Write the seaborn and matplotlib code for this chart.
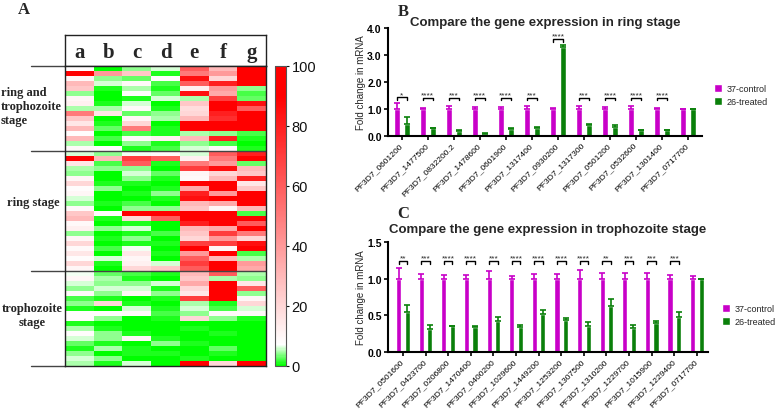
# -*- coding: utf-8 -*-

### Heatmap of stage genes + qPCR fold change bars ###

import numpy as np
import pandas as pd
import seaborn as sns
import matplotlib.pyplot as plt
from matplotlib.colors import LinearSegmentedColormap

sns.set_theme(style='white')
plt.rcParams['font.family'] = ['Liberation Sans', 'DejaVu Sans']

## Heatmap data (percentile, 0-100) ##
hm_columns = ['a', 'b', 'c', 'd', 'e', 'f', 'g']
ring_troph_rows = [
    [8, 0, 4, 6, 60, 30, 95],
    [90, 40, 25, 1, 50, 40, 100],
    [10, 4, 3, 8, 85, 20, 100],
    [30, 6, 9, 2, 60, 80, 90],
    [25, 1, 5, 1, 12, 40, 4],
    [4, 0, 8, 3, 85, 35, 2],
    [10, 0, 1, 6, 5, 70, 3],
    [12, 1, 6, 0, 25, 90, 85],
    [5, 5, 9, 1, 18, 95, 60],
    [50, 15, 3, 4, 20, 80, 90],
    [25, 0, 10, 5, 30, 75, 95],
    [15, 1, 20, 0, 95, 95, 90],
    [30, 3, 50, 1, 100, 100, 95],
    [8, 0, 2, 1, 5, 4, 2],
    [30, 2, 9, 12, 30, 80, 1],
    [5, 0, 4, 1, 4, 2, 0],
    [9, 8, 1, 2, 6, 9, 1],
]
ring_rows = [
    [6, 4, 7, 9, 6, 60, 80],
    [90, 30, 70, 60, 12, 50, 90],
    [15, 2, 60, 1, 50, 40, 3],
    [5, 4, 4, 0, 70, 85, 30],
    [4, 0, 6, 3, 10, 20, 25],
    [10, 0, 4, 1, 9, 30, 80],
    [20, 1, 1, 0, 90, 95, 15],
    [8, 4, 0, 1, 35, 100, 25],
    [10, 0, 1, 4, 80, 40, 95],
    [6, 0, 0, 1, 85, 90, 90],
    [4, 1, 2, 0, 30, 35, 100],
    [9, 0, 4, 4, 25, 10, 30],
    [25, 8, 90, 90, 100, 100, 2],
    [30, 1, 20, 60, 100, 100, 90],
    [9, 0, 1, 0, 80, 90, 60],
    [12, 4, 6, 0, 30, 35, 95],
    [4, 0, 1, 2, 25, 70, 50],
    [10, 1, 4, 0, 20, 40, 20],
    [20, 0, 1, 1, 70, 70, 85],
    [9, 2, 7, 0, 90, 10, 90],
    [15, 0, 15, 1, 40, 95, 2],
    [8, 6, 10, 0, 60, 30, 5],
    [20, 1, 12, 6, 70, 90, 40],
    [10, 0, 20, 25, 60, 100, 35],
]
troph_rows = [
    [7, 3, 2, 1, 30, 60, 5],
    [10, 5, 1, 0, 25, 5, 4],
    [6, 4, 4, 6, 35, 90, 15],
    [4, 6, 6, 1, 20, 95, 60],
    [9, 4, 10, 4, 15, 90, 4],
    [2, 1, 0, 1, 70, 90, 10],
    [4, 20, 1, 0, 5, 1, 20],
    [1, 0, 6, 1, 6, 2, 6],
    [8, 8, 9, 2, 4, 9, 9],
    [8, 4, 0, 1, 20, 4, 1],
    [1, 0, 0, 0, 0, 0, 0],
    [5, 1, 0, 0, 1, 0, 0],
    [8, 4, 1, 0, 0, 1, 0],
    [6, 4, 10, 1, 0, 0, 0],
    [3, 1, 0, 4, 1, 0, 0],
    [1, 5, 1, 0, 0, 3, 0],
    [4, 0, 1, 1, 0, 1, 0],
    [6, 4, 0, 0, 1, 0, 0],
    [5, 1, 6, 0, 90, 20, 90],
]
group_names = ['ring and\ntrophozoite\nstage', 'ring stage', 'trophozoite\nstage']
cbar_ticks = [0, 20, 40, 60, 80, 100]

## Ring stage qPCR ##
ring_genes = ['PF3D7_0601200', 'PF3D7_1477500', 'PF3D7_0832200.2', 'PF3D7_1478600',
              'PF3D7_0601900', 'PF3D7_1317400', 'PF3D7_0930200', 'PF3D7_1317300',
              'PF3D7_0501200', 'PF3D7_0532600', 'PF3D7_1301400', 'PF3D7_0717700']
ring_control = [1.0, 1.0, 1.0, 1.0, 1.0, 1.0, 1.0, 1.0, 1.0, 1.0, 1.0, 1.0]
ring_control_err = [0.21, 0.04, 0.12, 0.09, 0.07, 0.10, 0.04, 0.12, 0.07, 0.10, 0.02, 0.0]
ring_treated = [0.46, 0.28, 0.19, 0.09, 0.25, 0.29, 3.30, 0.40, 0.35, 0.21, 0.21, 1.0]
ring_treated_err = [0.23, 0.03, 0.04, 0.02, 0.03, 0.06, 0.07, 0.05, 0.04, 0.02, 0.02, 0.0]
ring_stars = ['*', '****', '***', '****', '****', '***', '****', '***', '****', '****', '****', '']

## Trophozoite stage qPCR ##
troph_genes = ['PF3D7_0501600', 'PF3D7_0423700', 'PF3D7_0206800', 'PF3D7_1470400',
               'PF3D7_0400200', 'PF3D7_1029600', 'PF3D7_1449200', 'PF3D7_1253200',
               'PF3D7_1307500', 'PF3D7_1310200', 'PF3D7_1229700', 'PF3D7_1015900',
               'PF3D7_1229400', 'PF3D7_0717700']
troph_control = [1.0, 1.0, 1.0, 1.0, 1.0, 1.0, 1.0, 1.0, 1.0, 1.0, 1.0, 1.0, 1.0, 1.0]
troph_control_err = [0.15, 0.07, 0.05, 0.045, 0.11, 0.03, 0.07, 0.06, 0.12, 0.08, 0.08, 0.08, 0.045, 0.035]
troph_treated = [0.54, 0.32, 0.35, 0.34, 0.42, 0.34, 0.52, 0.44, 0.36, 0.63, 0.33, 0.39, 0.48, 1.0]
troph_treated_err = [0.10, 0.05, 0.01, 0.02, 0.06, 0.03, 0.05, 0.03, 0.05, 0.09, 0.04, 0.03, 0.07, 0.0]
troph_stars = ['**', '***', '****', '****', '***', '****', '****', '****', '****', '**', '***', '***', '***', '']

series_names = ['37-control', '26-treated']
bar_colors = ['#C800C8', '#0A800A']

## Figure ##
W, H = 778, 410
fig = plt.figure(figsize=(W / 100, H / 100), dpi=100)


def px_axes(x0, y0, x1, y1):
    return fig.add_axes([x0 / W, 1 - y1 / H, (x1 - x0) / W, (y1 - y0) / H])


def fig_xy(x, y):
    return x / W, 1 - y / H


ax_hd = px_axes(65, 36, 266, 67)
ax_hm = px_axes(65, 67, 266, 367)
ax_cb = px_axes(275, 67, 286, 367)
ax_b = px_axes(388, 29, 702, 137)
ax_c = px_axes(388, 243, 708, 353)

## Panel A ##
cmap = LinearSegmentedColormap.from_list(
    'gwr', [(0.0, '#00ff00'), (0.07, '#ffffff'), (0.9, '#ff0000'), (1.0, '#ff0000')])
hm_df = pd.DataFrame(ring_troph_rows + ring_rows + troph_rows, columns=hm_columns)
sns.heatmap(hm_df, ax=ax_hm, cmap=cmap, vmin=0, vmax=100, cbar_ax=ax_cb,
            xticklabels=False, yticklabels=False, cbar_kws={'ticks': cbar_ticks})
for sp in ax_hm.spines.values():
    sp.set_visible(True)
    sp.set_color('#222222')
    sp.set_linewidth(1.0)

bounds = np.cumsum([0, len(ring_troph_rows), len(ring_rows), len(troph_rows)])
for b in bounds:
    ax_hm.plot([-1.18, 0], [b, b], color='#444444', lw=1, clip_on=False)
for b in bounds[1:-1]:
    ax_hm.axhline(b, color='#444444', lw=1)

# column letters in header box
ax_hd.set_xticks([])
ax_hd.set_yticks([])
for sp in ax_hd.spines.values():
    sp.set_visible(True)
    sp.set_color('#222222')
    sp.set_linewidth(1.0)
for i, lab in enumerate(hm_columns):
    ax_hd.text((i + 0.5) / len(hm_columns), 0.45, lab, ha='center', va='center',
               fontsize=15, fontweight='bold', family='Liberation Serif',
               transform=ax_hd.transAxes)

# group labels
serif_kw = dict(fontsize=9, fontweight='bold', family='Liberation Serif', linespacing=1.25)
fig.text(*fig_xy(1, 107), group_names[0], ha='left', va='center', multialignment='left', **serif_kw)
fig.text(*fig_xy(33, 203), group_names[1], ha='center', va='center', **serif_kw)
fig.text(*fig_xy(32, 316), group_names[2], ha='center', va='center', multialignment='center', **serif_kw)

cb = ax_hm.collections[0].colorbar
cb.outline.set_edgecolor('#555555')
cb.outline.set_linewidth(0.8)
ax_cb.tick_params(right=True, length=2, width=0.8, labelsize=10.5, pad=2, colors='#111111')

fig.text(*fig_xy(24, 10), 'A', ha='center', va='center', fontsize=12,
         fontweight='bold', family='Liberation Serif')


## Panels B and C ##
def bar_panel(ax, genes, ctrl, ctrl_err, treat, treat_err, stars, title,
              yticks, ylim, xlim, bracket_base, px_per_unit, title_pad):
    n = len(genes)
    df = pd.DataFrame({'gene': genes + genes,
                       'group': [series_names[0]] * n + [series_names[1]] * n,
                       'fold': ctrl + treat})
    sns.barplot(data=df, x='gene', y='fold', hue='group', palette=bar_colors,
                width=0.76, gap=0.4, errorbar=None, saturation=1, ax=ax)
    tops = []
    for cont, errs, col in zip(ax.containers, [ctrl_err, treat_err], bar_colors):
        xs = [r.get_x() + r.get_width() / 2 for r in cont]
        ys = [r.get_height() for r in cont]
        ax.errorbar(xs, ys, yerr=[np.zeros(n), errs], fmt='none', ecolor=col,
                    elinewidth=1.2, capsize=2, capthick=1.2)
        tops.append([y + e for y, e in zip(ys, errs)])
    tick = 2.5 / px_per_unit
    for i, s in enumerate(stars):
        if not s:
            continue
        r0 = ax.containers[0][i]
        r1 = ax.containers[1][i]
        x0 = r0.get_x() + r0.get_width() / 2
        x1 = r1.get_x() + r1.get_width() / 2
        y = max(bracket_base, max(tops[0][i], tops[1][i]) + 6 / px_per_unit)
        ax.plot([x0, x0, x1, x1], [y - tick, y, y, y - tick], color='black', lw=1)
        ax.annotate(s, (0.5 * (x0 + x1), y), xytext=(0, -0.5), textcoords='offset points',
                    ha='center', va='bottom', fontsize=6)

    ax.set_xlim(*xlim)
    ax.set_ylim(*ylim)
    ax.set_yticks(yticks)
    ax.set_yticklabels(['%.1f' % t for t in yticks], fontsize=7.5, fontweight='bold')
    ax.set_xticks(range(n))
    ax.set_xticklabels(genes, rotation=45, ha='right', va='center',
                       rotation_mode='anchor', fontsize=6.1)
    ax.set_xlabel('')
    ax.set_ylabel('Fold change in mRNA', fontsize=7, labelpad=1)
    ax.set_title(title, fontsize=9.5, fontweight='bold', pad=title_pad)
    sns.despine(ax=ax)
    for side in ['left', 'bottom']:
        ax.spines[side].set_color('black')
        ax.spines[side].set_linewidth(1.5)
    ax.tick_params(axis='both', bottom=True, left=True, direction='out', length=3,
                   width=1.2, pad=1.5, colors='black')
    ax.tick_params(axis='x', pad=2.5)


bar_panel(ax_b, ring_genes, ring_control, ring_control_err, ring_treated, ring_treated_err,
          ring_stars, 'Compare the gene expression in ring stage',
          [0, 1, 2, 3, 4], (0, 4), (-0.53, 11.54), 1.41, 27.0, 2)
bar_panel(ax_c, troph_genes, troph_control, troph_control_err, troph_treated, troph_treated_err,
          troph_stars, 'Compare the gene expression in trophozoite stage',
          [0, 0.5, 1.0, 1.5], (0, 1.5), (-0.66, 13.49), 1.24, 73.3, 7)

legend_kw = dict(frameon=False, title=None, fontsize=6.5, handlelength=0.9, handleheight=0.9,
                 handletextpad=0.5, borderpad=0, borderaxespad=0, labelspacing=0.45)
sns.move_legend(ax_b, 'center left', bbox_to_anchor=(1.038, 0.38), **legend_kw)
sns.move_legend(ax_c, 'center left', bbox_to_anchor=(1.044, 0.336), **legend_kw)

fig.text(*fig_xy(403, 12), 'B', ha='center', va='center', fontsize=12,
         fontweight='bold', family='Liberation Serif')
fig.text(*fig_xy(403, 214), 'C', ha='center', va='center', fontsize=12,
         fontweight='bold', family='Liberation Serif')

fig.savefig('out.png', dpi=100)
